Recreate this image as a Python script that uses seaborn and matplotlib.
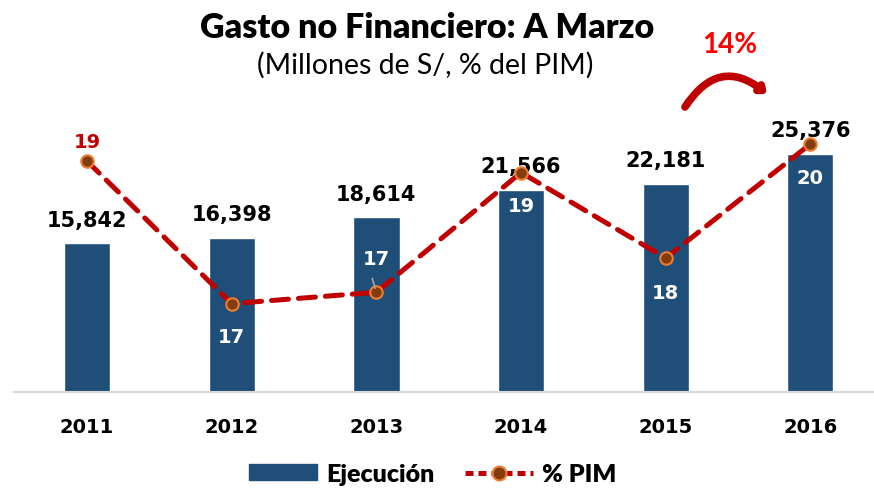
import numpy as np
import pandas as pd
import seaborn as sns
import matplotlib.pyplot as plt
from matplotlib.patches import Patch
from matplotlib.lines import Line2D

# data
years = ['2011', '2012', '2013', '2014', '2015', '2016']
ejecucion = [15842, 16398, 18614, 21566, 22181, 25376]
pct_pim = [19.4, 16.9, 17.1, 19.2, 17.7, 19.7]
pct_labels = ['19', '17', '17', '19', '18', '20']
growth_label = '14%'

bar_color = '#1F4E79'
line_color = '#C00000'

sns.set_style('white')
plt.rcParams['font.family'] = ['DejaVu Sans']
plt.rcParams['text.color'] = 'black'
plt.rcParams['xtick.color'] = 'black'

df = pd.DataFrame({'year': years, 'ejecucion': ejecucion, 'pct': pct_pim})
df['pos'] = np.arange(len(years))

fig = plt.figure(figsize=(8.74, 4.89), dpi=100)
ax = fig.add_axes([14 / 874, 96 / 489, 860 / 874, 293 / 489])

sns.barplot(data=df, x='year', y='ejecucion', color=bar_color, width=0.32,
            saturation=1, ax=ax)
ax.set_xlim(-0.505, 5.44)
ax.set_ylim(0, 31240)

# bar value labels
for i, v in enumerate(ejecucion):
    ax.annotate(f'{v:,}', xy=(i, v), xytext=(0, 10), textcoords='offset points',
                ha='center', va='bottom', fontsize=15, fontweight='bold', color='black')

ax2 = ax.twinx()
sns.lineplot(data=df, x='pos', y='pct', ax=ax2, color=line_color, lw=3.6,
             linestyle=(0, (3.4, 2.0)), dash_capstyle='round', marker='o',
             markersize=9, markerfacecolor='#843C0C', markeredgecolor='#ED7D31',
             markeredgewidth=1.5, zorder=3)
ax2.set_ylim(15.35, 20.49)
ax2.set_xlim(-0.505, 5.44)

# % PIM labels (offsets in points)
offsets = [14, -24, 24, -24, -25, -24]
for i, (v, lab, dy) in enumerate(zip(pct_pim, pct_labels, offsets)):
    col = line_color if i == 0 else 'white'
    ax2.annotate(lab, xy=(i, v), xytext=(0, dy), textcoords='offset points',
                 ha='center', va='center', fontsize=14, fontweight='bold', color=col)
# small leader line for 2013
ax2.annotate('', xy=(2, pct_pim[2]), xytext=(-3, 10), textcoords='offset points',
             arrowprops=dict(arrowstyle='-', color='#A6A6A6', lw=1.2, shrinkA=0, shrinkB=3))

for a in (ax, ax2):
    a.set_xlabel('')
    a.set_ylabel('')
    a.set_yticks([])
    for s in a.spines.values():
        s.set_visible(False)
ax.spines['bottom'].set_visible(True)
ax.spines['bottom'].set_color('#D9D9D9')
ax.spines['bottom'].set_linewidth(1.5)
ax.tick_params(axis='x', length=0, pad=18)
for t in ax.get_xticklabels():
    t.set_fontsize(14)
    t.set_fontweight('bold')

# title
fig.text(427 / 874, 1 - 28 / 489, 'Gasto no Financiero: A Marzo', ha='center', va='center',
         fontsize=24.5, fontweight='heavy', family='Lato', color='black')
fig.text(425 / 874, 1 - 65 / 489, '(Millones de S/, % del PIM)', ha='center', va='center',
         fontsize=20.5, family='Lato', color='black')

# growth arrow
fig.text(730 / 874, 1 - 45 / 489, growth_label, ha='center', va='center', fontsize=20,
         fontweight='bold', color='#FF0000', family='Lato')
ax.annotate('', xy=(767, 489 - 95), xycoords='figure pixels',
            xytext=(685, 489 - 108), textcoords='figure pixels',
            arrowprops=dict(arrowstyle='-|>,head_length=0.3,head_width=0.25',
                            connectionstyle='arc3,rad=-0.55', color=line_color, lw=5.5,
                            shrinkA=0, shrinkB=0))

# legend
handles = [Patch(facecolor=bar_color, edgecolor=bar_color),
           Line2D([0], [0], color=line_color, lw=3.6, linestyle=(0, (1.6, 1.0)),
                  marker='o', markersize=10, markerfacecolor='#843C0C',
                  markeredgecolor='#ED7D31', markeredgewidth=1.5)]
fig.legend(handles, ['Ejecución', '% PIM'], loc='center', bbox_to_anchor=(433 / 874, 1 - 475 / 489),
           ncol=2, frameon=False, prop={'family': 'Lato', 'weight': 'heavy', 'size': 18},
           handlelength=2.7, handleheight=0.6, columnspacing=1.2, handletextpad=0.4,
           borderpad=0)

fig.savefig('out.png', dpi=100)
